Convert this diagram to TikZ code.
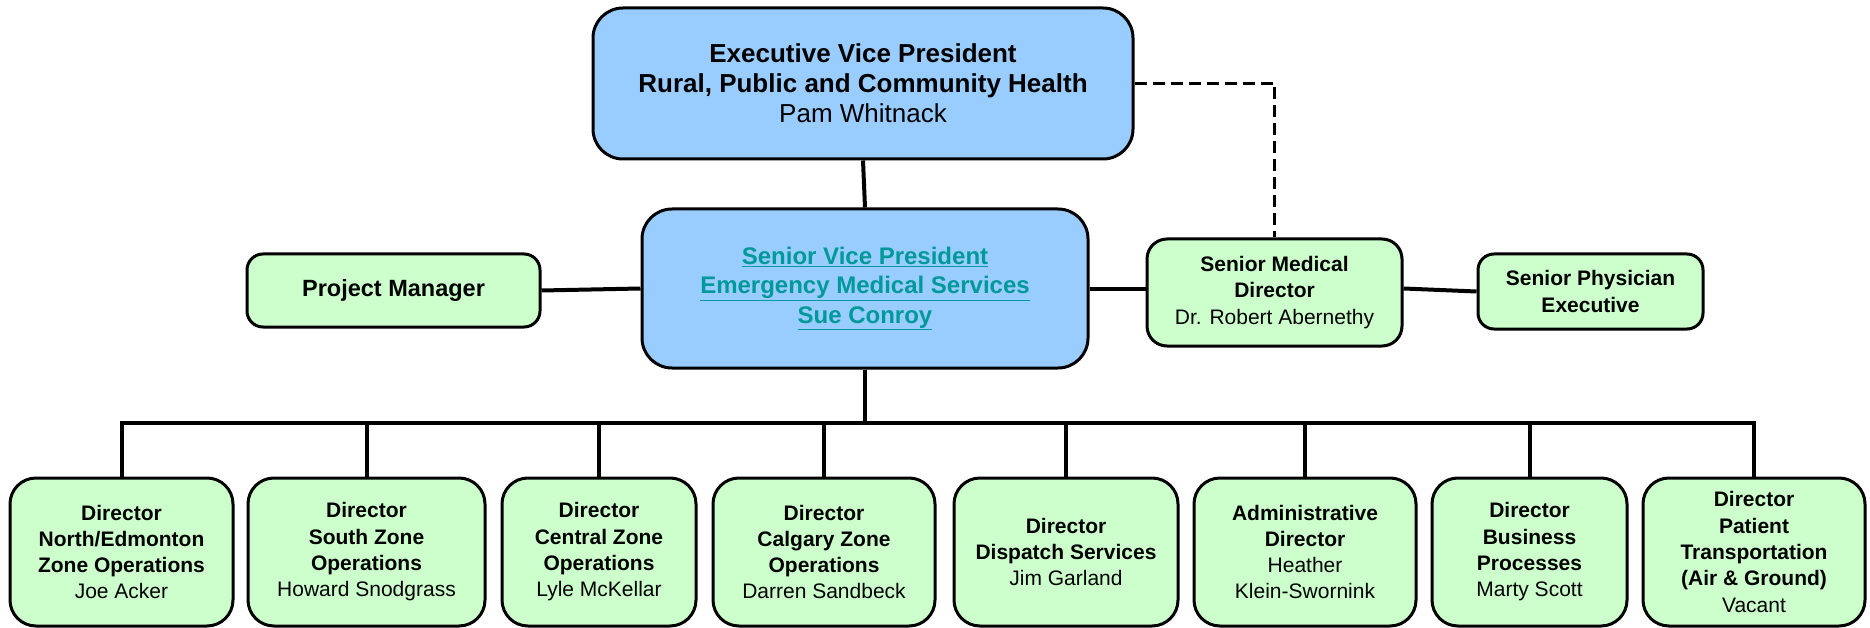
\documentclass[tikz,border=0pt]{standalone}
\usepackage{fontspec}
\setmainfont{Liberation Sans}
\definecolor{boxblue}{RGB}{153,204,255}
\definecolor{boxgreen}{RGB}{204,255,204}
\definecolor{svpteal}{RGB}{0,153,153}
\begin{document}
\begin{tikzpicture}[x=1pt,y=-1pt,
  base/.style={draw=black, line width=3pt, rounded corners=26pt, inner sep=0pt, align=center},
  bluebox/.style={base, fill=boxblue},
  greenbox/.style={base, fill=boxgreen},
  smallfont/.style={font=\fontsize{21}{26.3}\selectfont},
  botbox/.style={greenbox, smallfont, minimum height=148pt},
  conn/.style={line width=4pt, line join=miter},
  dashconn/.style={line width=3.5pt, dash pattern=on 12pt off 6pt}
]
\useasboundingbox (0,0) rectangle (1870,628);

\node[bluebox, minimum width=540pt, minimum height=151pt, rounded corners=30pt,
      font=\fontsize{26}{30}\selectfont] (evp) at (863,83.5)
  {\textbf{Executive Vice President}\\\textbf{Rural, Public and Community Health}\\Pam Whitnack};

\node[bluebox, minimum width=446pt, minimum height=159pt, rounded corners=30pt,
      font=\fontsize{24}{29.5}\selectfont\bfseries, text=svpteal] (svp) at (865,288.5)
  {\underline{Senior Vice President}\\\underline{Emergency Medical Services}\\\underline{Sue Conroy}};

\node[greenbox, minimum width=293pt, minimum height=73pt, rounded corners=16pt,
      font=\fontsize{23.5}{28}\selectfont\bfseries] (pm) at (393.5,290.5) {Project Manager};

\node[greenbox, smallfont, minimum width=255pt, minimum height=107pt, rounded corners=20pt] (smd) at (1274.5,292.5)
  {\textbf{Senior Medical}\\\textbf{Director}\\Dr. Robert Abernethy};

\node[greenbox, smallfont, minimum width=225pt, minimum height=75pt, rounded corners=16pt] (spe) at (1590.5,291.5)
  {\textbf{Senior Physician}\\\textbf{Executive}};

\node[botbox, minimum width=223pt] (b1) at (121.5,552)
  {\textbf{Director}\\\textbf{North/Edmonton}\\\textbf{Zone Operations}\\Joe Acker};
\node[botbox, minimum width=237pt] (b2) at (366.5,552)
  {\textbf{Director}\\\textbf{South Zone}\\\textbf{Operations}\\Howard Snodgrass};
\node[botbox, minimum width=194pt] (b3) at (599,552)
  {\textbf{Director}\\\textbf{Central Zone}\\\textbf{Operations}\\Lyle McKellar};
\node[botbox, minimum width=222pt] (b4) at (824,552)
  {\textbf{Director}\\\textbf{Calgary Zone}\\\textbf{Operations}\\Darren Sandbeck};
\node[botbox, minimum width=224pt] (b5) at (1066,552)
  {\textbf{Director}\\\textbf{Dispatch Services}\\Jim Garland};
\node[botbox, minimum width=222pt] (b6) at (1305,552)
  {\textbf{Administrative}\\\textbf{Director}\\Heather\\Klein-Swornink};
\node[botbox, minimum width=195pt] (b7) at (1529.5,552)
  {\textbf{Director}\\\textbf{Business}\\\textbf{Processes}\\Marty Scott};
\node[botbox, minimum width=222pt] (b8) at (1754,552)
  {\textbf{Director}\\\textbf{Patient}\\\textbf{Transportation}\\\textbf{(Air \& Ground)}\\Vacant};

\coordinate (bus) at (865,423);

\draw[conn] (evp.south) -- (svp.north);
\draw[dashconn] (evp.east) -| (smd.north);
\draw[conn] (pm.east) -- (svp.west);
\draw[conn] (svp.east) -- (svp.east -| smd.west);
\draw[conn] (smd.east |- svp.east) -- (spe.west);
\draw[conn] (svp.south) -- (bus);
\draw[conn] (b1.north) -- (b1.north |- bus) -- (b8.north |- bus) -- (b8.north);
\foreach \i in {2,...,7} {
  \draw[conn] (b\i.north) -- (b\i.north |- bus);
}
\end{tikzpicture}
\end{document}
